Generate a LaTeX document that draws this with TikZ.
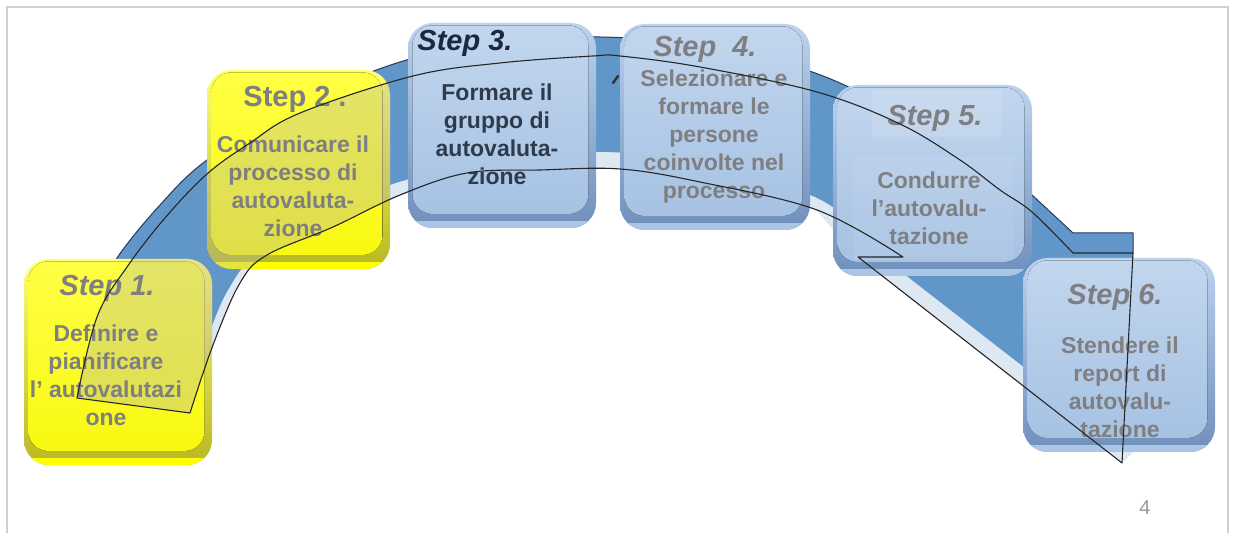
\documentclass[tikz,border=0pt]{standalone}
\usepackage{fontspec}
\setmainfont{Liberation Sans}
\definecolor{bandblue}{HTML}{6196C9}
\definecolor{bandlight}{HTML}{DDE8F3}
\definecolor{bandedge}{HTML}{243A5C}
\definecolor{yedge}{HTML}{B8B822}
\definecolor{yedgetop}{HTML}{FFFF70}
\definecolor{ytop}{HTML}{FFFF45}
\definecolor{ybot}{HTML}{F8F812}
\definecolor{yrim}{HTML}{FFFF00}
\definecolor{bedge}{HTML}{6F8FBC}
\definecolor{bedgetop}{HTML}{BDD3EE}
\definecolor{btop}{HTML}{C2D6EE}
\definecolor{bbot}{HTML}{A6C2E3}
\definecolor{brim}{HTML}{AAC5E6}
\definecolor{txtgray}{HTML}{7F7F82}
\definecolor{darktitle}{HTML}{1B2840}
\definecolor{darkbody}{HTML}{2F3B4C}
\definecolor{ovlgray}{RGB}{175,175,180}
\definecolor{framec}{HTML}{CFCFCF}
\newcommand{\mytitlefont}{\fontsize{14.5}{17}\selectfont\bfseries\itshape}
\newcommand{\mytitleup}{\fontsize{14.5}{17}\selectfont\bfseries}
\newcommand{\mybodyfont}{\fontsize{11.5}{14}\selectfont\bfseries}
\def\myoutline{plot[smooth, tension=0.6] coordinates {(77,398) (97,317) (127,267) (165,218) (207,174) (250,143) (300,113) (413,76) (500,63) (593,56) (620,56) (700,67) (817,92) (900,124) (960,160) (1000,190) (1032,212) (1073,253)} -- (1133,253) -- (1122,463) -- (858,257) -- (903,257) -- plot[smooth, tension=0.6] coordinates {(903,257) (817,210) (700,182) (620,169) (540,170) (467,173) (400,195) (333,227) (267,255) (240,283) (213,345) (190,413)} -- cycle}
\tikzset{
  stepbox/.style n args={5}{rectangle, rounded corners=12.5pt, inner sep=0pt, top color=#5, bottom color=#1,
    path picture={
      \fill[#4, sharp corners] ([yshift=-1pt]path picture bounding box.south west) rectangle ([yshift=3.5pt]path picture bounding box.south east);
      \fill[rounded corners=10pt, top color=#2, bottom color=#3] ([shift={(2.2pt,-1.2pt)}]path picture bounding box.north west) rectangle ([shift={(-3.8pt,7pt)}]path picture bounding box.south east);
    }},
  ybox/.style={stepbox={yedge}{ytop}{ybot}{yrim}{yedgetop}},
  bbox/.style={stepbox={bedge}{btop}{bbot}{brim}{bedgetop}},
  tit/.style={font=\mytitlefont, text=txtgray, inner sep=0pt, anchor=base},
  bdy/.style={font=\mybodyfont, text=txtgray, inner sep=0pt, align=center},
  outl/.style={draw=black!85, line width=0.55pt, line join=round},
}
\begin{document}
\begin{tikzpicture}[x=0.5pt,y=-0.5pt]
\fill[white] (0,0) rectangle (1233,533);
\useasboundingbox (0,0) rectangle (1233,533);
\draw[framec, line width=0.6pt] (7,533) -- (7,7) -- (1228,7) -- (1228,533);
% band: light part
\fill[bandlight] plot[smooth, tension=0.6] coordinates {(72,400) (84,340) (100,295) (117,258) (160,205) (207,160) (290,108) (400,62) (500,43) (600,37) (700,46) (815,73) (920,125) (1032,195)} -- (1073,233) -- (1133,233) -- (1133,452) -- (1122,463) -- (858,257) -- (815,209) -- plot[smooth, tension=0.6] coordinates {(815,209) (700,183) (620,169) (540,169) (467,173) (400,196) (333,226) (270,253) (240,283) (213,345) (190,413)} -- cycle;
% band: blue part
\fill[bandblue] plot[smooth, tension=0.6] coordinates {(72,400) (84,340) (100,295) (117,258) (160,205) (207,160) (290,108) (400,62) (500,43) (600,37) (700,46) (815,73) (920,125) (1032,195)} -- (1073,233) -- (1133,233) -- (1133,452) -- (908,277) -- (870,240) -- plot[smooth, tension=0.6] coordinates {(870,240) (815,197) (700,165) (607,152) (500,160) (399,182) (330,212) (262,248) (228,290) (205,345) (185,405)} -- cycle;
\draw[bandedge, line width=0.5pt, line join=round] plot[smooth, tension=0.6] coordinates {(72,400) (84,340) (100,295) (117,258) (160,205) (207,160) (290,108) (400,62) (500,43) (600,37) (700,46) (815,73) (920,125) (1032,195)} -- (1073,233) -- (1133,233) -- (1133,253);
\draw[black!80, line width=1.2pt, line cap=round] (613,83) -- (618,76);
% boxes
\node[ybox, minimum width=94pt, minimum height=103pt] (b1) at (118,362) {};
\node[ybox, minimum width=91.5pt, minimum height=99.5pt] (b2) at (298.5,169.5) {};
\node[bbox, minimum width=94pt, minimum height=102.5pt] (b3) at (502,125.5) {};
\node[bbox, minimum width=95pt, minimum height=103pt] (b4) at (715,127) {};
\node[bbox, minimum width=99.5pt, minimum height=95.5pt] (b5) at (932.5,180.5) {};
\node[bbox, minimum width=96pt, minimum height=97pt] (b6) at (1119,355) {};
% dull overlay on yellow boxes inside the outline shape
\begin{scope}
\clip \myoutline;
\fill[ovlgray, opacity=0.33, rounded corners=12.5pt] (b1.south west) rectangle (b1.north east);
\fill[ovlgray, opacity=0.33, rounded corners=12.5pt] (b2.south west) rectangle (b2.north east);
\end{scope}
\fill[white, opacity=0.12] (872,90) rectangle (1002,137);
\fill[white, opacity=0.07] (853,157) rectangle (1013,260);
% titles
\node[tit] (t1) at (107,296) {Step 1.};
\node[tit, font=\mytitleup] (t2) at (295,107) {Step 2 .};
\node[tit, text=darktitle] (t3) at (465,51) {Step 3.};
\node[tit] (t4) at (705,57) {Step\ \ 4.};
\node[tit] (t5) at (935,126) {Step 5.};
\node[tit] (t6) at (1115,305) {Step 6.};
% bodies
\node[bdy] (d1) at (106,375) {Definire e\\pianificare\\l’ autovalutazi\\one};
\node[bdy] (d2) at (293,186) {Comunicare il\\processo di\\autovaluta-\\zione};
\node[bdy, text=darkbody] (d3) at (497,134) {Formare il\\gruppo di\\autovaluta-\\zione};
\node[bdy] (d4) at (714,137) {Selezionare e\\formare le\\persone\\coinvolte nel\\processo};
\node[bdy] (d5) at (929,208) {Condurre\\l’autovalu-\\tazione};
\node[bdy] (d6) at (1120,387) {Stendere il\\report di\\autovalu-\\tazione};
% outline shape
\draw[outl] \myoutline;
\node[font=\fontsize{10}{12}\selectfont, text=black!40, inner sep=0pt] (pg) at (1145,508) {4};
\end{tikzpicture}
\end{document}
